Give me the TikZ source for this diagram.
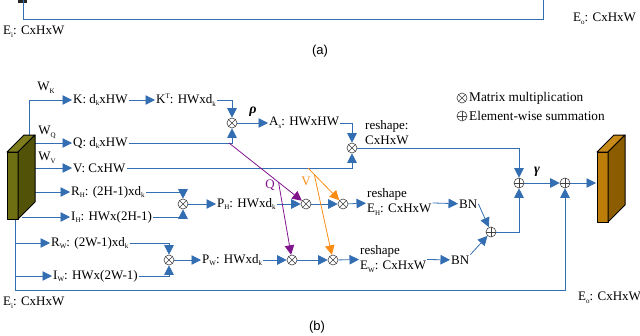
\documentclass[tikz,border=0pt]{standalone}
\usepackage{fontspec}
\setmainfont{Liberation Serif}
\setsansfont{Liberation Sans}
\usetikzlibrary{arrows.meta, positioning}

\definecolor{flowblue}{RGB}{52,110,178}
\definecolor{qpurple}{RGB}{128,20,140}
\definecolor{vorange}{RGB}{250,140,20}
\definecolor{olivefront}{RGB}{110,110,18}
\definecolor{oliveside}{RGB}{82,82,8}
\definecolor{olivetop}{RGB}{125,125,30}
\definecolor{brownfront}{RGB}{188,126,8}
\definecolor{brownside}{RGB}{140,92,0}
\definecolor{browntop}{RGB}{200,138,25}

\newcommand{\sbs}[1]{\raisebox{-0.45ex}{\fontsize{7}{7}\selectfont #1}}
\newcommand{\sps}[1]{\raisebox{0.9ex}{\fontsize{7}{7}\selectfont #1}}

\begin{document}
\begin{tikzpicture}[
        x=1pt, y=-1pt,
        lbl/.style={font=\fontsize{13}{15}\selectfont, inner sep=1pt},
        txt/.style={lbl, anchor=west},
        twoline/.style={txt, align=left},
        greek/.style={lbl, font=\fontsize{14}{15}\selectfont\bfseries\itshape},
        caption/.style={lbl, font=\sffamily\fontsize{13}{15}\selectfont},
        legend/.style={txt, font=\fontsize{13.3}{15}\selectfont},
        op/.style={circle, draw=black!75, line width=0.6pt, minimum size=10pt, inner sep=0pt},
        mul/.style={op, path picture={\draw[black!75, line width=0.6pt] (path picture bounding box.north west) -- (path picture bounding box.south east) (path picture bounding box.north east) -- (path picture bounding box.south west);}},
        add/.style={op, path picture={\draw[black!75, line width=0.6pt] (path picture bounding box.north) -- (path picture bounding box.south) (path picture bounding box.east) -- (path picture bounding box.west);}},
        wire/.style={draw=flowblue, line width=0.8pt},
        arrow/.style={wire, -{Triangle[length=9.5pt, width=9.5pt]}},
        qarrow/.style={draw=qpurple, line width=0.8pt, -{Triangle[length=9.5pt, width=9.5pt]}},
        varrow/.style={draw=vorange, line width=0.8pt, -{Triangle[length=9.5pt, width=9.5pt]}},
        box/.style={draw=black, line width=1pt, line join=round}
    ]
    \useasboundingbox (0,0) rectangle (640,335);

    % what is left of (a)
    \fill[black!85] (18,0) rectangle (27,2.5);
    \coordinate (ta1) at (23,0);
    \coordinate (ta2) at (543,0);
    \coordinate (ta3) at (543,19);
    \draw[wire] (ta1) |- (ta3) -- (ta2);
    \node[txt] (eia) at (2,32) {E\sbs{i}: CxHxW};
    \node[txt] (eoa) at (572,19) {E\sbs{o}: CxHxW};
    \node[caption] (capa) at (320,51) {(a)};

    % legend
    \node[mul] (lgm) at (462,98) {};
    \node[legend] (lgmt) at (468,98) {Matrix multiplication};
    \node[add] (lga) at (462,116) {};
    \node[legend] (lgat) at (468,116) {Element-wise summation};

    % input branches
    \node[txt] (K) at (72,100) {K: d\sbs{k}xHW};
    \node[txt] (KT) at (155,100) {K\sps{T}: HWxd\sbs{k}};
    \node[txt] (Q) at (72,143) {Q: d\sbs{k}xHW};
    \node[txt] (V) at (72,168) {V: CxHW};
    \node[txt] (RH) at (70,192) {R\sbs{H}: (2H-1)xd\sbs{k}};
    \node[txt] (IH) at (70,217) {I\sbs{H}: HWx(2H-1)};
    \node[txt] (RW) at (50,243) {R\sbs{W}: (2W-1)xd\sbs{k}};
    \node[txt] (IW) at (52,276) {I\sbs{W}: HWx(2W-1)};
    \node[lbl] (wk) at (46,88) {W\sbs{K}};
    \node[lbl] (wq) at (47,132) {W\sbs{Q}};
    \node[lbl] (wv) at (47,158) {W\sbs{V}};

    % self attention
    \node[mul] (mA) at (232,123) {};
    \node[greek] (rho) at (253,112) {ρ};
    \node[txt] (As) at (268,123) {A\sbs{s}: HWxHW};
    \node[mul] (mB) at (352,148) {};
    \node[twoline] (rsA) at (364,133) {reshape:\\CxHxW};

    % height branch
    \node[mul] (mH1) at (183,204) {};
    \node[txt] (PH) at (216,204) {P\sbs{H}: HWxd\sbs{k}};
    \node[mul] (mH2) at (306,204) {};
    \node[mul] (mH3) at (343,204) {};
    \node[twoline] (EH) at (366,202) {reshape\\E\sbs{H}: CxHxW};
    \node[txt] (BN1) at (458,204) {BN};

    % width branch
    \node[mul] (mW1) at (169,260) {};
    \node[txt] (PW) at (201,260) {P\sbs{W}: HWxd\sbs{k}};
    \node[mul] (mW2) at (292,260) {};
    \node[mul] (mW3) at (333,260) {};
    \node[twoline] (EW) at (359,259) {reshape\\E\sbs{W}: CxHxW};
    \node[txt] (BN2) at (450,260) {BN};

    % sums
    \node[add] (a3) at (491,232) {};
    \node[add] (a1) at (519,183) {};
    \node[greek] (gam) at (537,172) {γ};
    \node[add] (a2) at (565,183) {};

    \node[txt] (ei) at (2,303) {E\sbs{i}: CxHxW};
    \node[txt] (eo) at (577,298) {E\sbs{o}: CxHxW};
    \node[caption] (capb) at (317,327) {(b)};
    \node[lbl, text=qpurple] (ql) at (270,185) {Q};
    \node[lbl, text=vorange] (vl) at (306,181) {V};

    \coordinate (ek) at (29,139);
    \coordinate (eside) at (35,170);
    \coordinate (elow) at (22,217);
    \coordinate (eb) at (15,219);
    \coordinate (ebc) at (15,290);
    \coordinate (eout) at (596,183);
    \coordinate (qs) at (229,143);
    \coordinate (vs) at (308,168);

    % connectors from the input
    \draw[arrow] (ek) |- (K.west);
    \draw[arrow] (eside |- Q.west) -- (Q.west);
    \draw[arrow] (eside |- V.west) -- (V.west);
    \draw[arrow] (eside |- RH.west) -- (RH.west);
    \draw[arrow] (elow |- IH.west) -- (IH.west);
    \draw[arrow] (eb |- RW.west) -- (RW.west);
    \draw[arrow] (eb |- IW.west) -- (IW.west);
    \draw[arrow] (eb) -- (ebc) -| (a2.south);

    \draw[arrow] (K) -- (KT);
    \draw[arrow] (KT.east) -| (mA.north);
    \draw[arrow] (Q.east) -| (mA.south);
    \draw[arrow] (mA) -- (As);
    \draw[arrow] (As.east) -| (mB.north);
    \draw[arrow] (V.east) -| (mB.south);
    \draw[arrow] (mB.east) -| (a1.north);

    \draw[arrow] (RH.east) -| (mH1.north);
    \draw[arrow] (IH.east) -| (mH1.south);
    \draw[arrow] (mH1) -- (PH);
    \draw[arrow] (PH) -- (mH2);
    \draw[arrow] (mH2) -- (mH3);
    \draw[arrow] (mH3) -- (EH);
    \draw[arrow] (EH) -- (BN1);

    \draw[arrow] (RW.east) -| (mW1.north);
    \draw[arrow] (IW.east) -| (mW1.south);
    \draw[arrow] (mW1) -- (PW);
    \draw[arrow] (PW) -- (mW2);
    \draw[arrow] (mW2) -- (mW3);
    \draw[arrow] (mW3) -- (EW);
    \draw[arrow] (EW) -- (BN2);

    \draw[arrow] (BN1.east) -- (a3);
    \draw[arrow] (BN2.north east) -- (a3);
    \draw[arrow] (a3.east) -| (a1.south);
    \draw[arrow] (a1) -- (a2);
    \draw[arrow] (a2) -- (eout);

    % Q and V into the axial branches
    \draw[qarrow] (qs) -- coordinate[pos=0.68] (qb) (mH2);
    \draw[qarrow] (qb) -- (mW2);
    \draw[varrow] (vs) -- coordinate[pos=0.2] (vb) (mH3);
    \draw[varrow] (vb) -- (mW3);

    % feature maps
    \filldraw[box, fill=olivefront] (7,152) rectangle (18,219);
    \filldraw[box, fill=olivetop] (7,152) -- (24,135) -- (35,135) -- (18,152) -- cycle;
    \filldraw[box, fill=oliveside] (18,152) -- (35,135) -- (35,202) -- (18,219) -- cycle;
    \filldraw[box, fill=brownfront] (597,152) rectangle (608,222);
    \filldraw[box, fill=browntop] (597,152) -- (614,135) -- (625,135) -- (608,152) -- cycle;
    \filldraw[box, fill=brownside] (608,152) -- (625,135) -- (625,205) -- (608,222) -- cycle;

\end{tikzpicture}
\end{document}
